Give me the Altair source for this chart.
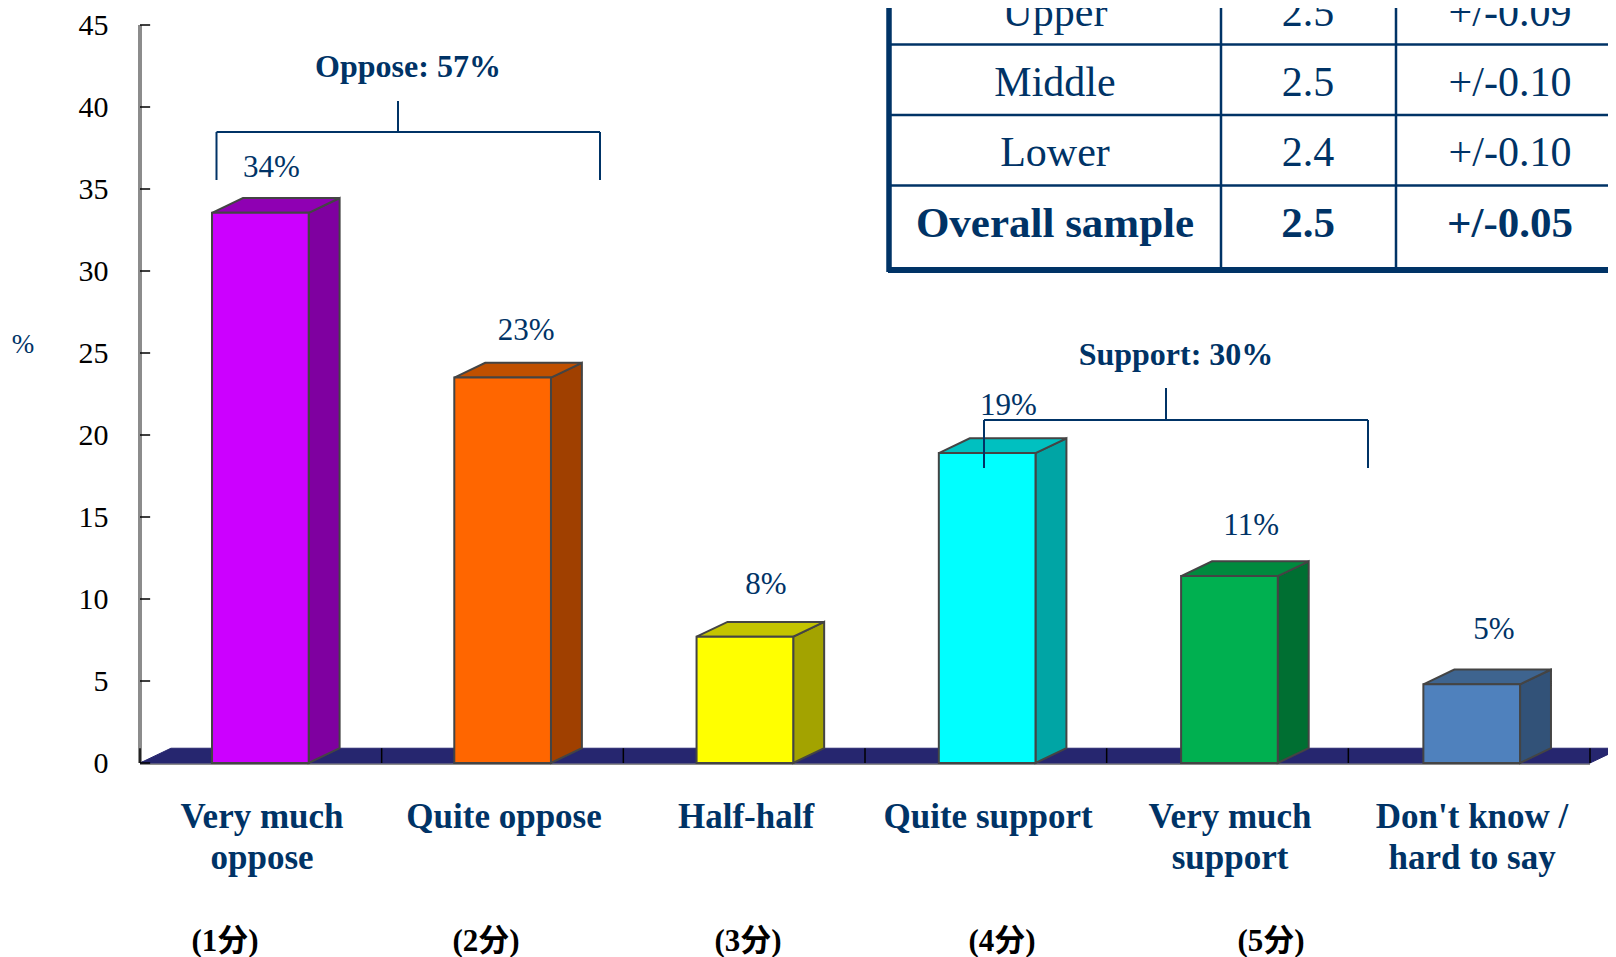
import altair as alt
import pandas as pd

categories = ["Very much\noppose", "Quite oppose", "Half-half", "Quite support", "Very much\nsupport", "Don't know /\nhard to say"]
values = [33.55, 23.5, 7.7, 18.9, 11.4, 4.8]
value_labels = ["34%", "23%", "8%", "19%", "11%", "5%"]
score_labels = ["(1分)", "(2分)", "(3分)", "(4分)", "(5分)"]
front = ["#CC00FF", "#FF6600", "#FFFF00", "#00FFFF", "#00B050", "#4F81BD"]
side = ["#7F00A0", "#A04000", "#A3A300", "#00A5A5", "#006F32", "#325278"]
top_c = ["#8F00B3", "#C05000", "#C4C400", "#00C0C0", "#008A3E", "#3E648F"]
label_dx = [11, 24, 22, 23, 24, 25]
label_dy = [-45, -47, -52, -47, -50, -54]
score_px = [225, 486, 748, 1002, 1271]
y_ticks = [0, 5, 10, 15, 20, 25, 30, 35, 40, 45]
floor_ticks = [0, 1, 2, 3, 4, 5, 6]
table_rows = [["Upper", "2.5", "+/-0.09"], ["Middle", "2.5", "+/-0.10"], ["Lower", "2.4", "+/-0.10"], ["Overall sample", "2.5", "+/-0.05"]]

NAVY = "#003366"
SERIF = "Liberation Serif"
CJK = "Liberation Serif, Noto Sans CJK SC"
BL, STEP, BW, DX, DY = 0.298, 1.0025, 0.40, 0.128, 0.9
W, H = 1450, 738
xs = alt.Scale(domain=[0, 6], nice=False, zero=False)
ys = alt.Scale(domain=[0, 45], nice=False, zero=False)
X_AXIS = alt.Axis(title=None, values=[0], labels=False, ticks=False, domain=False, grid=False)
Y_AXIS = alt.Axis(title=None, values=y_ticks, ticks=False, domain=False, grid=False,
                  labelFont=SERIF, labelFontSize=30, labelColor="#000000", labelPadding=32)
X = lambda p: p - 140
Y = lambda p: p - 25


def ex(f="x"):
    return alt.X(f"{f}:Q", scale=xs, axis=X_AXIS)


def ey(f="y"):
    return alt.Y(f"{f}:Q", scale=ys, axis=Y_AXIS)


def poly(rows, fill, stroke="#444444", sw=2):
    # rows of (x, low, high)
    df = pd.DataFrame(rows, columns=["x", "y2", "y"])
    return alt.Chart(df).mark_area(fill=fill, stroke=stroke, strokeWidth=sw, opacity=1, interpolate="linear").encode(
        x=ex(), y=ey(), y2=alt.Y2("y2:Q"))


def label(s, px, py, size, color=NAVY, bold=False, font=SERIF):
    return alt.Chart(pd.DataFrame({"t": [s]})).mark_text(
        font=font, fontSize=size, color=color, fontWeight="bold" if bold else "normal",
        align="center", baseline="middle").encode(x=alt.value(X(px)), y=alt.value(Y(py)), text="t:N")


def seg(x1, y1, x2, y2, color=NAVY, sw=2):
    return alt.Chart(pd.DataFrame({"a": [0]})).mark_rule(color=color, strokeWidth=sw).encode(
        x=alt.value(X(x1)), x2=alt.value(X(x2)), y=alt.value(Y(y1)), y2=alt.value(Y(y2)))


layers = []

# axis lines
layers.append(alt.Chart(pd.DataFrame({"x": [0], "y": [45], "y2": [0]})).mark_rule(color="#8C8C8C", strokeWidth=4).encode(
    x=ex(), y=ey(), y2=alt.Y2("y2:Q")))
layers.append(alt.Chart(pd.DataFrame({"x": [0], "x2": [6], "y": [0]})).mark_rule(color="#8C8C8C", strokeWidth=4).encode(
    x=ex(), x2=alt.X2("x2:Q"), y=ey()))

# floor
layers.append(poly([(0, 0, 0), (DX, 0, DY), (6, 0, DY), (6 + DX, DY, DY)], "#26266F", stroke="#26266F", sw=1))
layers.append(alt.Chart(pd.DataFrame({"x": floor_ticks, "y": [0] * 7, "y2": [DY] * 7})).mark_rule(color="#000000", strokeWidth=1.5).encode(
    x=ex(), y=ey(), y2=alt.Y2("y2:Q")))
# y axis ticks, pointing inward
layers.append(alt.Chart(pd.DataFrame({"y": y_ticks, "x": [0] * len(y_ticks), "x2": [0.042] * len(y_ticks)})).mark_rule(color="#000000", strokeWidth=1.5).encode(
    x=ex(), x2=alt.X2("x2:Q"), y=ey()))

# bars
for i, v in enumerate(values):
    l = BL + i * STEP
    r = l + BW
    layers.append(poly([(r, 0, v), (r + DX, DY, v + DY)], side[i]))
    layers.append(poly([(l, v, v), (l + DX, v, v + DY), (r, v, v + DY), (r + DX, v + DY, v + DY)], top_c[i]))
    bar = pd.DataFrame({"x": [l], "x2": [r], "y": [v], "y2": [0]})
    layers.append(alt.Chart(bar).mark_rect(fill=front[i], stroke="#444444", strokeWidth=2).encode(
        x=ex(), x2=alt.X2("x2:Q"), y=ey(), y2=alt.Y2("y2:Q")))
    t = pd.DataFrame({"x": [i + 0.4985], "y": [v], "t": [value_labels[i]]})
    layers.append(alt.Chart(t).mark_text(font=SERIF, fontSize=31, color=NAVY, dx=label_dx[i], dy=label_dy[i],
                                         align="center", baseline="middle").encode(x=ex(), y=ey(), text="t:N"))
    c = pd.DataFrame({"x": [0.505 + i * 1.0014], "t": [categories[i]]})
    layers.append(alt.Chart(c).mark_text(font=SERIF, fontSize=35, fontWeight="bold", color=NAVY, lineBreak="\n", lineHeight=41,
                                         align="center", baseline="top", dy=1).encode(x=ex(), y=alt.value(Y(799)), text="t:N"))

# scores
for s, p in zip(score_labels, score_px):
    layers.append(label(s, p, 942, 31, color="#000000", bold=True, font=CJK))

layers.append(label("%", 23, 345, 27))

# brackets
layers += [seg(216.5, 132, 600, 132), seg(216.5, 132, 216.5, 180), seg(600, 132, 600, 180), seg(398, 101, 398, 132),
           seg(984, 420, 1368, 420), seg(984, 420, 984, 468), seg(1368, 420, 1368, 468), seg(1166, 388, 1166, 420)]
layers.append(label("Oppose: 57%", 408, 67, 32, bold=True))
layers.append(label("Support: 30%", 1176, 355, 32, bold=True))

# table
for yy in [44.5, 115, 185.5]:
    layers.append(seg(888, yy, 1616, yy, sw=2.5))
layers.append(seg(888, 270, 1616, 270, sw=6))
layers.append(seg(889, 0, 889, 272, sw=5.5))
layers.append(seg(1221, 0, 1221, 270, sw=2.5))
layers.append(seg(1396, 0, 1396, 270, sw=2.5))
for row, py in zip(table_rows, [13, 82.5, 152.5, 223.5]):
    bold = row[0].startswith("Overall")
    for s, px in zip(row, [1055, 1308, 1510]):
        layers.append(label(s, px, py, 43 if bold else 42, bold=bold))

chart = alt.layer(*layers).properties(
    width=W, height=H,
    padding={"left": 132, "top": 17, "right": 18, "bottom": 194},
    autosize=alt.AutoSizeParams(type="none"),
    background="#FFFFFF",
).configure_view(stroke=None)

chart.save("out.html", embed_options={"renderer": "svg", "actions": False})
